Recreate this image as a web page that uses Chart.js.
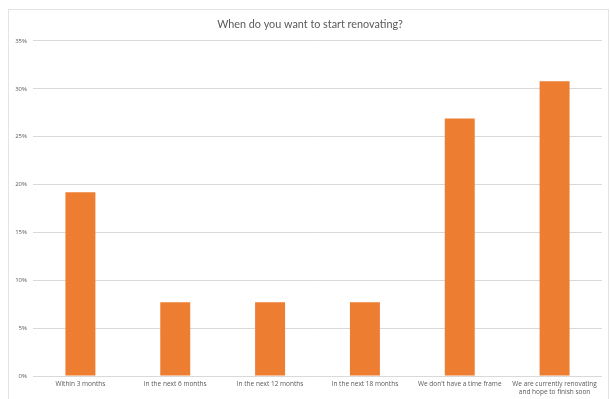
<!DOCTYPE html>
<html>
<head>
<meta charset="utf-8">
<script src="https://cdn.jsdelivr.net/npm/chart.js@4"></script>
<style>
html,body{margin:0;padding:0;background:#fff;}
#wrap{position:relative;width:610px;height:399px;}
</style>
</head>
<body>
<div id="wrap"><canvas id="c" width="610" height="399"></canvas></div>
<script>
const categories = [
  "Within 3 months",
  "In the next 6 months",
  "In the next 12 months",
  "In the next 18 months",
  "We don't have a time frame",
  ["We are currently renovating", "and hope to finish soon"]
];
const values = [19.2, 7.7, 7.7, 7.7, 26.9, 30.8];
const yTicks = [0, 5, 10, 15, 20, 25, 30, 35];
const titleText = "When do you want to start renovating?";

const framePlugin = {
  id: 'frame',
  beforeDraw(chart) {
    const ctx = chart.ctx;
    ctx.save();
    ctx.fillStyle = '#fff';
    ctx.fillRect(0, 0, chart.width, chart.height);
    ctx.strokeStyle = '#e4e4e4';
    ctx.lineWidth = 1;
    ctx.strokeRect(8.5, 9.5, 600, 400);
    ctx.restore();
  },
  afterLayout(chart) {
    if (chart.titleBlock) {
      chart.titleBlock.left = 18;
    }
  }
};

new Chart(document.getElementById('c'), {
  type: 'bar',
  data: {
    labels: categories,
    datasets: [{
      data: values,
      backgroundColor: '#ED7D31',
      borderWidth: 0,
      barPercentage: 0.316,
      categoryPercentage: 1.0
    }]
  },
  options: {
    responsive: false,
    animation: false,
    devicePixelRatio: 1,
    layout: { padding: { top: 10, right: 8, bottom: 0, left: 0 } },
    plugins: {
      legend: { display: false },
      tooltip: { enabled: false },
      title: {
        display: true,
        text: titleText,
        color: '#595959',
        font: { family: 'Lato', size: 10.8, weight: 'normal' },
        padding: { top: 8, bottom: 10 }
      }
    },
    scales: {
      x: {
        grid: { display: false, drawTicks: false },
        border: { display: false },
        ticks: {
          color: '#595959',
          font: { family: 'Open Sans', size: 6.5 },
          maxRotation: 0,
          minRotation: 0,
          autoSkip: false,
          padding: 4
        },
        afterFit(s) { s.height = 23; }
      },
      y: {
        min: 0,
        max: 35,
        afterBuildTicks(s) { s.ticks = yTicks.map(v => ({ value: v })); },
        grid: { color: '#d9d9d9', drawTicks: false, lineWidth: 1 },
        border: { display: false },
        ticks: {
          color: '#595959',
          font: { family: 'Open Sans', size: 6 },
          padding: 6,
          callback: v => v + '%'
        },
        afterFit(s) { s.width = 33; }
      }
    }
  },
  plugins: [framePlugin]
});
</script>
</body>
</html>
